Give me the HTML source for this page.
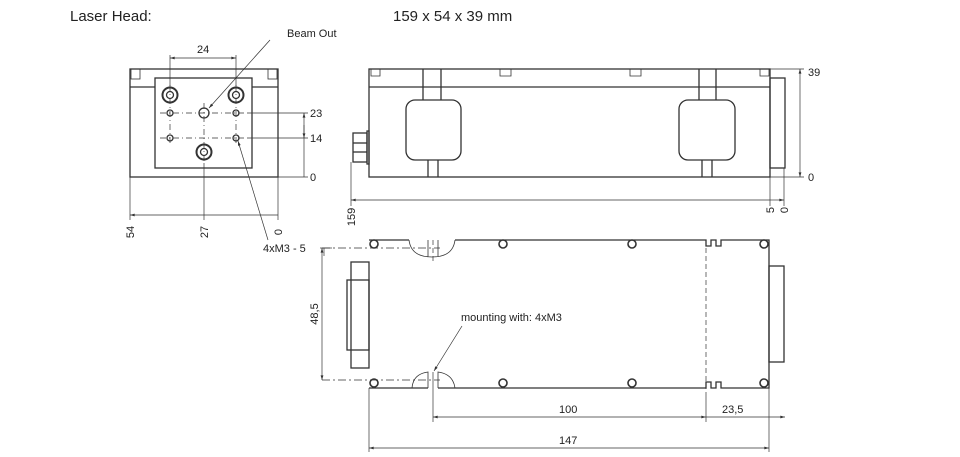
<!DOCTYPE html>
<html><head><meta charset="utf-8"><style>
body{margin:0;background:#fff}
svg{display:block;font-family:"Liberation Sans",sans-serif}
</style></head><body>
<svg width="960" height="457" viewBox="0 0 960 457" xmlns="http://www.w3.org/2000/svg">
<defs>
<marker id="a" viewBox="0 0 10 6" refX="10" refY="3" markerWidth="8" markerHeight="4" orient="auto-start-reverse"><path d="M0,0L10,3L0,6z" fill="#333"/></marker>
</defs>
<text x="70" y="21" font-size="15" fill="#222">Laser Head:</text>
<text x="393" y="21" font-size="15" fill="#222">159 x 54 x 39 mm</text>

<g fill="none" stroke="#333" stroke-width="1.3">
<!-- FRONT VIEW -->
<rect x="130" y="69" width="148" height="108"/>
<line x1="130" y1="87" x2="155" y2="87"/><line x1="252" y1="87" x2="278" y2="87"/>
<rect x="155" y="78" width="97" height="90"/>
<rect x="131" y="69" width="9" height="10" stroke-width="0.8"/><rect x="268" y="69" width="9" height="10" stroke-width="0.8"/>
<circle cx="170" cy="95" r="7.5" stroke-width="2"/><circle cx="170" cy="95" r="3.5"/>
<circle cx="236" cy="95" r="7.5" stroke-width="2"/><circle cx="236" cy="95" r="3.5"/>
<circle cx="204" cy="152" r="7.5" stroke-width="2"/><circle cx="204" cy="152" r="3.5"/>
<circle cx="204" cy="113" r="5"/>
<circle cx="170" cy="113" r="3"/><circle cx="236" cy="113" r="3"/>
<circle cx="170" cy="138" r="3"/><circle cx="236" cy="138" r="3"/>
<g stroke-width="0.7" stroke-dasharray="6,3,1,3">
<line x1="160" y1="113" x2="248" y2="113"/><line x1="160" y1="138" x2="248" y2="138"/>
<line x1="170" y1="85" x2="170" y2="146"/><line x1="236" y1="85" x2="236" y2="146"/>
<line x1="204" y1="103" x2="204" y2="163"/>
</g>
<g stroke-width="0.7">
<line x1="170" y1="55" x2="170" y2="86"/><line x1="236" y1="55" x2="236" y2="86"/>
<line x1="170" y1="58" x2="236" y2="58" marker-start="url(#a)" marker-end="url(#a)"/>
<line x1="248" y1="113" x2="308" y2="113"/><line x1="248" y1="138" x2="308" y2="138"/><line x1="278" y1="177" x2="308" y2="177"/>
<line x1="304" y1="113" x2="304" y2="177" marker-start="url(#a)"/>
<line x1="304" y1="125" x2="304" y2="138" marker-end="url(#a)"/>
<line x1="130" y1="177" x2="130" y2="220"/><line x1="204" y1="163" x2="204" y2="220"/><line x1="278" y1="177" x2="278" y2="220"/>
<line x1="130" y1="215" x2="278" y2="215" marker-start="url(#a)"/>
<line x1="270" y1="40" x2="209" y2="108" marker-end="url(#a)"/>
<line x1="268" y1="240" x2="238" y2="141" marker-end="url(#a)"/>
<line x1="320" y1="248" x2="332" y2="248"/><line x1="324" y1="248" x2="324" y2="256"/>
</g>

<!-- SIDE VIEW -->
<rect x="369" y="69" width="401" height="108"/>
<line x1="369" y1="87" x2="770" y2="87"/>
<path d="M371,69v7h9v-7 M500,69v7h11v-7 M630,69v7h11v-7 M760,69v7h9v-7" stroke-width="0.8"/>
<path d="M423,69v31 M441,69v31 M428,160v17 M438,160v17 M699,69v31 M716,69v31 M702,160v17 M712,160v17"/>
<rect x="406" y="100" width="55" height="60" rx="9"/>
<rect x="679" y="100" width="56" height="60" rx="9"/>
<rect x="353" y="133" width="14" height="29"/><line x1="353" y1="143" x2="367" y2="143"/><line x1="353" y1="152" x2="367" y2="152"/>
<rect x="367" y="131" width="2" height="33"/>
<rect x="770" y="78" width="15" height="90"/>
<g stroke-width="0.7">
<line x1="770" y1="69" x2="804" y2="69"/><line x1="770" y1="177" x2="804" y2="177"/>
<line x1="800" y1="69" x2="800" y2="177" marker-start="url(#a)" marker-end="url(#a)"/>
<line x1="351" y1="162" x2="351" y2="206"/><line x1="770" y1="177" x2="770" y2="206"/><line x1="784" y1="168" x2="784" y2="206"/>
<line x1="351" y1="200" x2="770" y2="200" marker-start="url(#a)"/>
<line x1="770" y1="200" x2="784" y2="200" marker-end="url(#a)"/>
</g>

<!-- BOTTOM VIEW -->
<path d="M369,240H409M455,240H706v6h5v-6h5v6h5v-6H769V388H721v-6h-5v6h-5v-6h-5v6H438M428,388H369Z"/>
<path d="M409,240Q411,257 432,257Q453,257 455,240 M428,240v17 M438,240v17" stroke-width="0.8"/>
<path d="M412,388Q413,374 428,372v16 M438,388v-16Q453,374 455,388" stroke-width="0.8"/>
<rect x="351" y="262" width="18" height="106"/>
<rect x="347" y="280" width="22" height="70"/>
<rect x="769" y="266" width="15" height="96"/>
<g stroke-width="1.6">
<circle cx="374" cy="244" r="4"/><circle cx="764" cy="244" r="4"/><circle cx="374" cy="383" r="4"/><circle cx="764" cy="383" r="4"/>
<circle cx="503" cy="244" r="4"/><circle cx="632" cy="244" r="4"/><circle cx="503" cy="383" r="4"/><circle cx="632" cy="383" r="4"/>
</g>
<g stroke-width="0.7">
<line x1="322" y1="248" x2="440" y2="248" stroke-dasharray="8,3,2,3"/>
<line x1="322" y1="380" x2="440" y2="380" stroke-dasharray="8,3,2,3"/>
<line x1="322" y1="248" x2="322" y2="380" marker-start="url(#a)" marker-end="url(#a)"/>
<line x1="433" y1="240" x2="433" y2="262" stroke-dasharray="5,3"/>
<line x1="433" y1="372" x2="433" y2="422"/>
<line x1="706" y1="240" x2="706" y2="395" stroke-dasharray="5,3"/><line x1="706" y1="395" x2="706" y2="422"/>
<line x1="769" y1="388" x2="769" y2="452"/><line x1="369" y1="388" x2="369" y2="452"/>
<line x1="433" y1="417" x2="706" y2="417" marker-start="url(#a)" marker-end="url(#a)"/>
<line x1="706" y1="417" x2="785" y2="417" marker-end="url(#a)"/>
<line x1="369" y1="448" x2="769" y2="448" marker-start="url(#a)" marker-end="url(#a)"/>
<line x1="462" y1="326" x2="434" y2="371" marker-end="url(#a)"/>
</g>
</g>

<g font-size="11" fill="#222">
<text x="287" y="37">Beam Out</text>
<text x="197" y="53">24</text>
<text x="310" y="117">23</text><text x="310" y="142">14</text><text x="310" y="181">0</text>
<text transform="translate(134,232) rotate(-90)" text-anchor="middle">54</text>
<text transform="translate(208,232) rotate(-90)" text-anchor="middle">27</text>
<text transform="translate(282,232) rotate(-90)" text-anchor="middle">0</text>
<text x="263" y="252">4xM3 - 5</text>
<text x="808" y="76">39</text><text x="808" y="181">0</text>
<text transform="translate(355,217) rotate(-90)" text-anchor="middle">159</text>
<text transform="translate(774,210) rotate(-90)" text-anchor="middle">5</text>
<text transform="translate(788,210) rotate(-90)" text-anchor="middle">0</text>
<text transform="translate(318,314) rotate(-90)" text-anchor="middle">48,5</text>
<text x="461" y="321">mounting with: 4xM3</text>
<text x="559" y="413">100</text>
<text x="722" y="413">23,5</text>
<text x="559" y="444">147</text>
</g>
</svg>
</body></html>
